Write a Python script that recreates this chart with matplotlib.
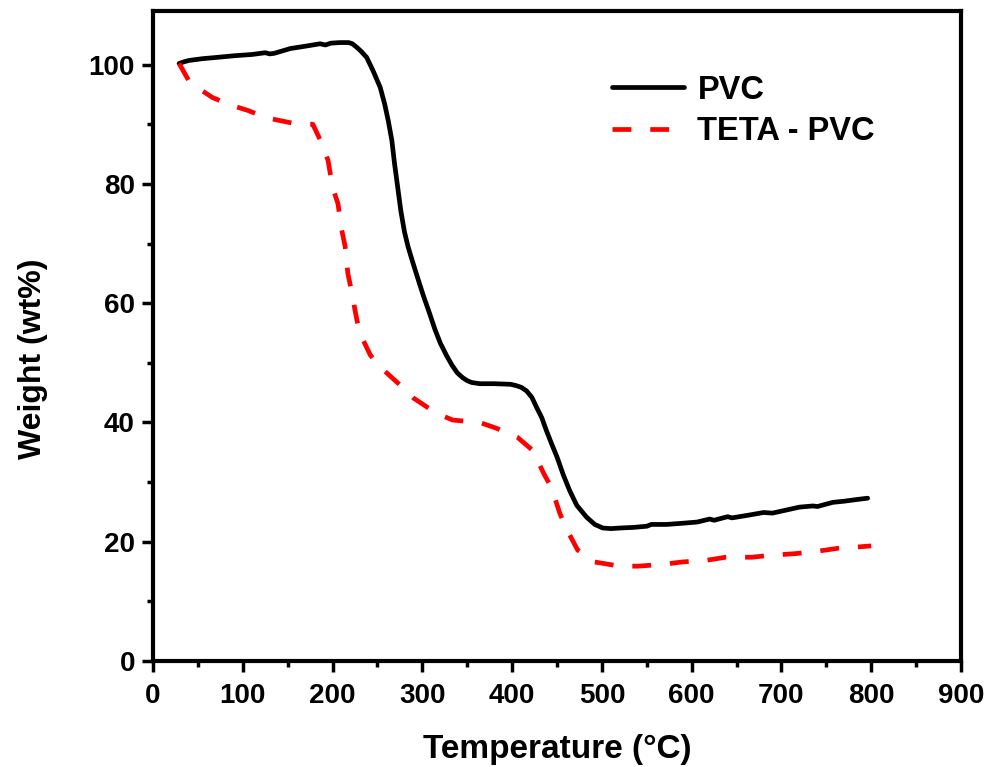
import matplotlib
matplotlib.use("Agg")
import matplotlib.pyplot as plt
from matplotlib.ticker import MultipleLocator

plt.rcParams['font.family'] = ['Liberation Sans', 'DejaVu Sans']
plt.rcParams['font.weight'] = 'bold'

# PVC thermogram (temperature in °C, weight in wt%)
pvc_temp = [29, 35, 40, 55, 70, 91, 110, 125, 130, 135, 153, 170, 186, 192, 198, 208,
            218, 222, 227, 232, 238, 245, 253, 258, 262, 266, 269, 273, 276, 280,
            284, 289, 294, 301, 308, 314, 320, 327, 333, 339, 345, 350, 355, 364,
            380, 398, 404, 410, 416, 422, 427, 433, 438, 444, 450, 457, 464, 472,
            483, 492, 501, 510, 520, 535, 550, 555, 572, 590, 606, 620, 625, 640,
            645, 665, 680, 690, 705, 720, 735, 740, 757, 770, 785, 796]
pvc_weight = [100.2, 100.5, 100.7, 101.0, 101.2, 101.5, 101.7, 102.0, 101.8, 101.9,
              102.7, 103.1, 103.5, 103.3, 103.6, 103.7, 103.7, 103.5, 102.9, 102.2,
              101.2, 99.0, 96.2, 93.4, 90.6, 87.3, 83.4, 78.9, 75.5, 72.0,
              69.5, 67.0, 64.6, 61.3, 58.3, 55.6, 53.3, 51.2, 49.6, 48.3, 47.5,
              47.0, 46.7, 46.5, 46.5, 46.4, 46.2, 45.9, 45.3, 44.2, 42.6, 40.8,
              38.7, 36.4, 34.2, 31.2, 28.6, 26.1, 24.1, 22.9, 22.3, 22.2, 22.3,
              22.4, 22.6, 22.9, 22.9, 23.1, 23.3, 23.8, 23.6, 24.2, 24.0, 24.5,
              24.9, 24.8, 25.3, 25.8, 26.0, 25.9, 26.6, 26.8, 27.1, 27.3]

# TETA-modified PVC thermogram
teta_temp = [29, 41, 66, 85, 106, 126, 155, 178, 188, 195, 200, 206, 210, 214, 217,
             221, 226, 230, 242, 253, 275, 290, 316, 334, 364, 383, 406, 423, 435,
             444, 453, 461, 473, 492, 520, 540, 568, 589, 617, 638, 667, 686, 715,
             735, 763, 783, 800]
teta_weight = [100.2, 97.0, 94.5, 93.3, 92.3, 91.1, 90.2, 90.0, 86.8, 83.9, 79.4, 76.7,
               72.4, 69.5, 65.0, 62.1, 58.0, 55.1, 51.3, 49.3, 46.3, 44.1, 41.5, 40.4,
               40.0, 39.0, 37.5, 35.3, 31.5, 29.0, 24.8, 22.0, 18.6, 16.6, 15.9, 15.9,
               16.2, 16.6, 16.9, 17.4, 17.4, 17.7, 18.0, 18.3, 18.9, 19.1, 19.3]

x_ticks = [0, 100, 200, 300, 400, 500, 600, 700, 800, 900]
y_ticks = [0, 20, 40, 60, 80, 100]

fig = plt.figure(figsize=(9.88, 7.67), dpi=100)
ax = fig.add_axes([0.1549, 0.1382, 0.8178, 0.8475])

ax.plot(pvc_temp, pvc_weight, color='black', lw=3.4, label='PVC',
        solid_joinstyle='round', solid_capstyle='round')
ax.plot(teta_temp, teta_weight, color='#ff0000', lw=3.4, label='TETA - PVC',
        dashes=(4.0, 4.0))

ax.set_xlim(0, 900)
ax.set_ylim(0, 109)
ax.set_xticks(x_ticks)
ax.set_yticks(y_ticks)
ax.xaxis.set_minor_locator(MultipleLocator(50))
ax.yaxis.set_minor_locator(MultipleLocator(10))

ax.tick_params(axis='both', which='major', direction='out', length=8, width=2.5,
               labelsize=20)
ax.tick_params(axis='x', which='major', pad=8)
ax.tick_params(axis='y', which='major', pad=5)
ax.tick_params(axis='both', which='minor', direction='out', length=4, width=2.5)
ax.tick_params(top=False, right=False, which='both')

for lbl in ax.get_xticklabels() + ax.get_yticklabels():
    lbl.set_fontweight('bold')

for sp in ax.spines.values():
    sp.set_linewidth(3.0)

ax.set_xlabel('Temperature (°C)', fontsize=24, fontweight='bold', labelpad=18)
ax.set_ylabel('Weight (wt%)', fontsize=23, fontweight='bold', labelpad=29, y=0.465)

leg = ax.legend(loc='upper left', bbox_to_anchor=(0.568, 0.902), frameon=False,
                handlelength=2.2, handletextpad=0.42,
                borderpad=0, borderaxespad=0, labelspacing=0.32,
                prop={'weight': 'bold', 'size': 23.5})

fig.savefig('out.png', dpi=100)
